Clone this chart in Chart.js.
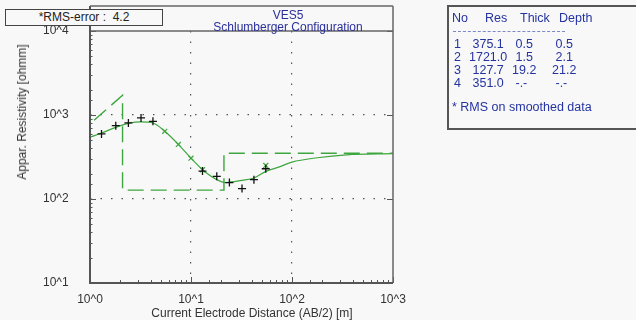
<!DOCTYPE html>
<html>
<head>
<meta charset="utf-8">
<script src="https://cdn.jsdelivr.net/npm/chart.js@4/dist/chart.umd.min.js"></script>
<style>
  body { margin: 0; background: #f8f8f8; }
  #wrap { position: relative; width: 636px; height: 320px; background: #f8f8f8;
          font-family: "Liberation Sans", Arial, sans-serif; font-size: 12px; overflow: hidden; }
  #c { position: absolute; left: 0; top: 0; }
  .abs { position: absolute; white-space: pre; line-height: 12px; }
  #rms { left: 5px; top: 9px; width: 156px; height: 15px; border: 1.5px solid #444; background: #f8f8f8;
         text-align: center; line-height: 15px; color: #222; }
  #title { left: 188px; top: 9px; width: 200px; text-align: center; color: #2a2f9c; white-space: normal; }
  #ytitle { left: 22px; top: 112px; color: #333; transform: translate(-50%, -50%) rotate(-90deg); }
  #xtitle { left: 252px; top: 313px; color: #333; transform: translate(-50%, -50%); }
  #table { left: 447px; top: 5px; width: 200px; height: 121px; border-left: 2px solid #555;
           border-top: 2px solid #555; border-bottom: 2px solid #555; }
  #table span { position: absolute; white-space: pre; color: #2433a0; line-height: 12px; font-size: 12.5px; }
  #sep { position: absolute; left: 4px; top: 24px; width: 112px; border-top: 1px dashed #7d86c8; }
</style>
</head>
<body>
<div id="wrap">
  <canvas id="c" width="636" height="320"></canvas>
  <div id="rms" class="abs">*RMS-error :  4.2</div>
  <div id="title" class="abs">VES5<br>Schlumberger Configuration</div>
  <div id="ytitle" class="abs">Appar. Resistivity [ohmm]</div>
  <div id="xtitle" class="abs">Current Electrode Distance (AB/2) [m]</div>
  <div id="table" class="abs"></div>
</div>
<script>
// --- DATA ---
// field measurements (black +)
const fieldAB = [1.3, 1.8, 2.4, 3.2, 4.2, 13, 18, 24, 32, 42, 55];
const fieldRho = [596, 746, 804, 922, 840, 215, 186, 157, 133, 170, 229];
// smoothed data (green x)
const smoothAB = [5.5, 7.5, 10, 13, 55];
const smoothRho = [640, 446, 306, 223, 251];
// computed model response (solid green)
const curveAB = [1, 1.3, 1.8, 2.4, 3.2, 4.2, 5.5, 7.5, 10, 13, 18, 22, 24, 32, 42, 55, 75, 100, 178, 347, 1000];
const curveRho = [543, 610, 713, 795, 826, 804, 640, 446, 306, 223, 170, 157, 159, 167, 178, 213, 241, 275, 310, 336, 346];
// layer model (dashed green + table)
const layerNo = [1, 2, 3, 4];
const layerRes = [375.1, 1721.0, 127.7, 351.0];
const layerThick = [0.5, 1.5, 19.2];
const layerDepth = [0.5, 2.1, 21.2];
// axis ranges / tick labels
const xRange = [1, 1000];
const yRange = [10, 10000];

const GREEN = "#3ea63e";
const toPts = (xs, ys) => xs.map((x, i) => ({ x: x, y: ys[i] }));

// step line of the layer model, drawn the way the program does it
function modelSteps() {
  const pts = [{ x: layerDepth[0], y: layerRes[0] }];
  for (let i = 1; i < layerRes.length; i++) {
    if (i > 1) pts.push({ x: layerDepth[i - 1], y: layerRes[i] });
    pts.push({ x: i < layerDepth.length ? layerDepth[i] : xRange[1], y: layerRes[i] });
  }
  return pts;
}

// --- TABLE ---
function buildTable() {
  const t = document.getElementById("table");
  const cell = (txt, left, top) => {
    const s = document.createElement("span");
    s.textContent = txt; s.style.left = left + "px"; s.style.top = top + "px";
    t.appendChild(s);
  };
  const x0 = 449; // page x of table left border
  const cols = { no: 451, res: 469, thick: 512, depth: 552 };
  const head = 10 - 5;
  cell("No", 452 - x0, head); cell("Res", 485 - x0, head);
  cell("Thick", 520 - x0, head); cell("Depth", 559 - x0, head);
  const sep = document.createElement("div"); sep.id = "sep"; t.appendChild(sep);
  layerNo.forEach((n, i) => {
    const top = 36 - 5 + i * 13;
    cell(String(n), cols.no + 3 - x0, top);
    cell(layerRes[i].toFixed(1).padStart(6), cols.res - x0, top);
    cell((i < layerThick.length ? layerThick[i].toFixed(1) : "-.-").padStart(4), cols.thick - x0, top);
    cell((i < layerDepth.length ? layerDepth[i].toFixed(1) : "-.-").padStart(4), cols.depth - x0, top);
  });
  cell("* RMS on smoothed data", 452 - x0, 99 - 5);
}
buildTable();

// --- CHART ---
const isDecade = v => Math.abs(Math.log10(v) - Math.round(Math.log10(v))) < 1e-9;
const decadeLabel = v => isDecade(v) ? "10^" + Math.round(Math.log10(v)) : "";

// frame + inward tick marks
const framePlugin = {
  id: "frame",
  afterDraw(chart) {
    const { ctx, chartArea: a, scales } = chart;
    const titleTop = a.top - 25;
    ctx.save();
    ctx.strokeStyle = "#555";
    // inward ticks
    ctx.lineWidth = 1;
    scales.x.ticks.forEach(t => {
      const px = Math.round(scales.x.getPixelForValue(t.value)) + 0.5;
      const len = isDecade(t.value) ? 6 : 3;
      ctx.beginPath(); ctx.moveTo(px, a.bottom); ctx.lineTo(px, a.bottom - len); ctx.stroke();
    });
    scales.y.ticks.forEach(t => {
      const py = Math.round(scales.y.getPixelForValue(t.value)) + 0.5;
      const len = isDecade(t.value) ? 6 : 2.5;
      ctx.beginPath(); ctx.moveTo(a.left, py); ctx.lineTo(a.left + len, py); ctx.stroke();
      if (isDecade(t.value)) {
        ctx.beginPath(); ctx.moveTo(a.right, py); ctx.lineTo(a.right - 6, py); ctx.stroke();
      }
    });
    // box lines
    ctx.lineWidth = 1.5;
    ctx.strokeStyle = "#666";
    ctx.beginPath();
    ctx.moveTo(a.left, titleTop); ctx.lineTo(a.right, titleTop);
    ctx.moveTo(a.left, a.top); ctx.lineTo(a.right, a.top);
    ctx.moveTo(a.right, titleTop); ctx.lineTo(a.right, a.bottom);
    ctx.stroke();
    ctx.lineWidth = 2;
    ctx.strokeStyle = "#555";
    ctx.beginPath();
    ctx.moveTo(a.left, titleTop); ctx.lineTo(a.left, a.bottom);
    ctx.lineTo(a.right, a.bottom);
    ctx.stroke();
    ctx.restore();
  }
};

function gridColor(ctx, lo, hi) {
  const v = ctx.tick && ctx.tick.value;
  if (!v || !isDecade(v) || v <= lo || v >= hi) return "transparent";
  return "#555";
}

new Chart(document.getElementById("c"), {
  type: "line",
  data: {
    datasets: [
      {
        label: "Field data",
        data: toPts(fieldAB, fieldRho),
        showLine: false,
        pointStyle: "cross",
        pointRadius: 4,
        pointBorderWidth: 1.3,
        borderColor: "#111",
        backgroundColor: "#111"
      },
      {
        label: "Smoothed data",
        data: toPts(smoothAB, smoothRho),
        showLine: false,
        pointStyle: "crossRot",
        pointRadius: 3.5,
        pointBorderWidth: 1.2,
        borderColor: GREEN,
        backgroundColor: GREEN
      },
      {
        label: "Model curve",
        data: toPts(curveAB, curveRho),
        borderColor: GREEN,
        borderWidth: 1.2,
        pointRadius: 0,
        cubicInterpolationMode: "monotone"
      },
      {
        label: "Layer model",
        data: modelSteps(),
        borderColor: GREEN,
        borderWidth: 1.4,
        borderDash: [16, 7],
        pointRadius: 0,
        tension: 0
      }
    ]
  },
  options: {
    responsive: false,
    animation: false,
    layout: { padding: { left: 43, right: 243, top: 31, bottom: 0 } },
    plugins: { legend: { display: false }, tooltip: { enabled: false } },
    scales: {
      x: {
        type: "logarithmic",
        min: xRange[0],
        max: xRange[1],
        afterFit: s => { s.height = 37; },
        grid: { drawTicks: false, color: c => gridColor(c, xRange[0], xRange[1]), lineWidth: 1.2 },
        border: { display: false, dash: [1.5, 9] },
        ticks: { autoSkip: false, maxRotation: 0, padding: 9, color: "#333",
                 font: { family: "Liberation Sans", size: 12 }, callback: decadeLabel }
      },
      y: {
        type: "logarithmic",
        min: yRange[0],
        max: yRange[1],
        afterFit: s => { s.width = 47; },
        grid: { drawTicks: false, color: c => gridColor(c, yRange[0], yRange[1]), lineWidth: 1.2 },
        border: { display: false, dash: [1.5, 9] },
        ticks: { autoSkip: false, crossAlign: "far", color: "#333",
                 font: { family: "Liberation Sans", size: 12 }, callback: decadeLabel }
      }
    }
  },
  plugins: [framePlugin]
});
</script>
</body>
</html>
